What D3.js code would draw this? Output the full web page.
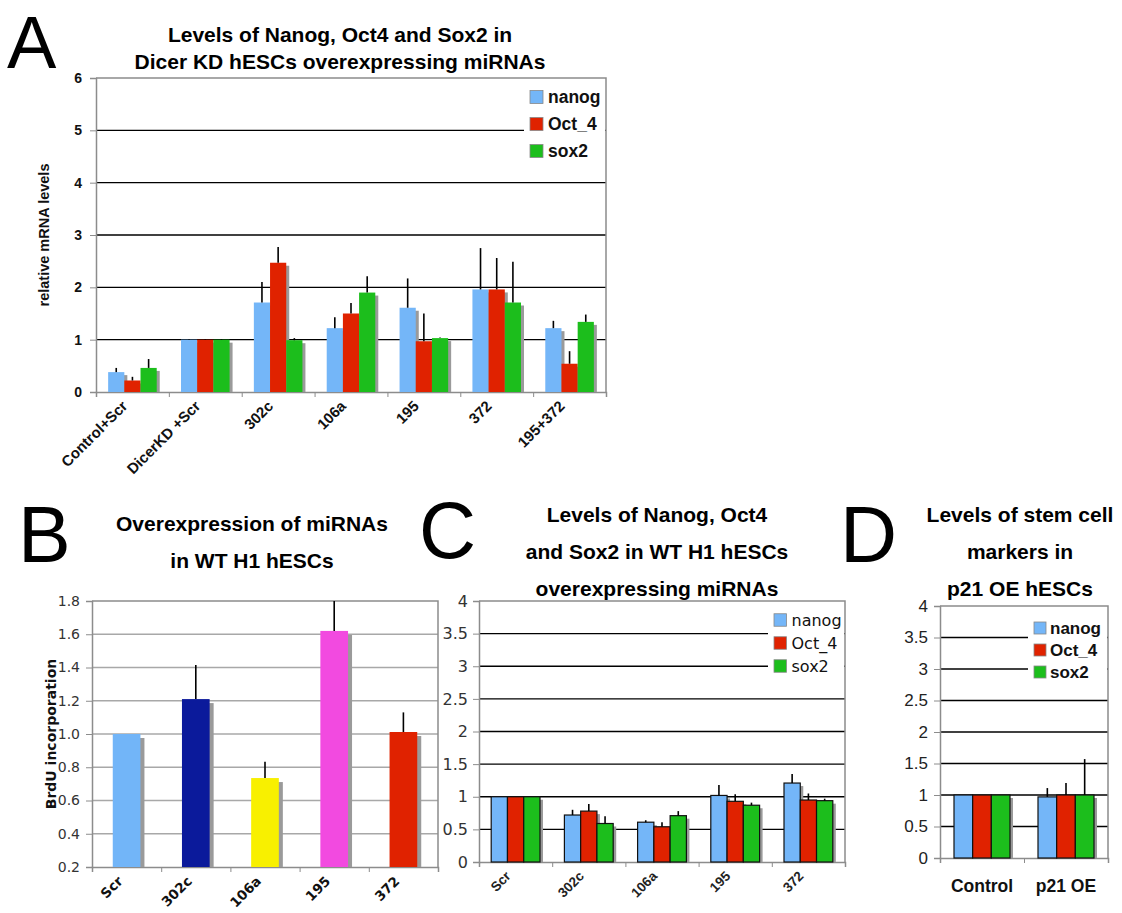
<!DOCTYPE html>
<html>
<head>
<meta charset="utf-8">
<script src="https://cdn.jsdelivr.net/npm/d3@7"></script>
<style>
  body { margin: 0; background: #fff; }
  svg { display: block; }
</style>
</head>
<body>
<svg id="fig" width="1122" height="913"></svg>
<script>
// ---- Panel A: Dicer KD hESCs overexpressing miRNAs ----
const aCategories = ["Control+Scr", "DicerKD +Scr", "302c", "106a", "195", "372", "195+372"];
const aNanog    = [0.38, 1.00, 1.71, 1.22, 1.61, 1.96, 1.22];
const aNanogErr = [0.08, 0.01, 0.39, 0.21, 0.56, 0.79, 0.14];
const aOct4     = [0.22, 1.00, 2.47, 1.50, 0.97, 1.96, 0.54];
const aOct4Err  = [0.07, 0.01, 0.30, 0.20, 0.53, 0.60, 0.24];
const aSox2     = [0.46, 1.00, 0.99, 1.90, 1.03, 1.71, 1.34];
const aSox2Err  = [0.17, 0.01, 0.04, 0.31, 0.01, 0.78, 0.14];
const aTicks = [0, 1, 2, 3, 4, 5, 6];

// ---- Panel B: BrdU incorporation ----
const bCategories = ["Scr", "302c", "106a", "195", "372"];
const bValues = [1.00, 1.21, 0.735, 1.62, 1.012];
const bErr    = [0.00, 0.205, 0.098, 0.18, 0.118];
const bColors = ["#72b5f8", "#0b1a9b", "#f8f000", "#f24ae0", "#e02200"];
const bTicks = [0.2, 0.4, 0.6, 0.8, 1.0, 1.2, 1.4, 1.6, 1.8];

// ---- Panel C: WT H1 hESCs overexpressing miRNAs ----
const cCategories = ["Scr", "302c", "106a", "195", "372"];
const cNanog    = [1.00, 0.72, 0.61, 1.02, 1.21];
const cNanogErr = [0.00, 0.08, 0.03, 0.16, 0.14];
const cOct4     = [1.00, 0.78, 0.54, 0.93, 0.95];
const cOct4Err  = [0.00, 0.11, 0.07, 0.11, 0.10];
const cSox2     = [1.00, 0.59, 0.71, 0.87, 0.94];
const cSox2Err  = [0.00, 0.11, 0.07, 0.04, 0.03];
const cTicks = [0, 0.5, 1, 1.5, 2, 2.5, 3, 3.5, 4];

// ---- Panel D: p21 OE hESCs ----
const dCategories = ["Control", "p21 OE"];
const dNanog    = [1.00, 0.97];
const dNanogErr = [0.00, 0.14];
const dOct4     = [1.00, 1.00];
const dOct4Err  = [0.00, 0.19];
const dSox2     = [1.00, 1.00];
const dSox2Err  = [0.00, 0.57];
const dTicks = [0, 0.5, 1, 1.5, 2, 2.5, 3, 3.5, 4];

const seriesNames = ["nanog", "Oct_4", "sox2"];
const seriesColors = ["#74b6f8", "#e02200", "#1cbe1c"];

const ARIAL = "'Liberation Sans', Arial, sans-serif";
const VERDANA = "'DejaVu Sans', Verdana, sans-serif";

const svg = d3.select("#fig");

function panelLetter(letter, x, y, size) {
  svg.append("text").attr("x", x).attr("y", y)
    .attr("font-family", ARIAL).attr("font-size", size).attr("fill", "#000")
    .text(letter);
}

function titleLines(lines, cx, y0, step, size) {
  lines.forEach((t, i) => {
    svg.append("text").attr("x", cx).attr("y", y0 + i * step)
      .attr("text-anchor", "middle").attr("font-family", ARIAL)
      .attr("font-weight", "bold").attr("font-size", size).attr("fill", "#000")
      .text(t);
  });
}

// Shared frame: gridlines, border, y axis, x boundary ticks
function frame(g, p, y, ticks, nCats, gridColor, gridWidth, tickFmt, tickFont) {
  const inner = ticks.slice(1, -1);
  g.append("g").selectAll("line").data(inner).join("line")
    .attr("x1", p.x0).attr("x2", p.x1)
    .attr("y1", d => y(d)).attr("y2", d => y(d))
    .attr("stroke", gridColor).attr("stroke-width", gridWidth);
  // top and right border
  g.append("path")
    .attr("d", `M${p.x0},${p.yTop}H${p.x1}V${p.yBot}`)
    .attr("fill", "none").attr("stroke", "#8c8c8c").attr("stroke-width", 1.5);
  // y axis
  const ya = g.append("g").attr("transform", `translate(${p.x0},0)`)
    .call(d3.axisLeft(y).tickValues(ticks).tickSize(6).tickPadding(p.tickPad).tickFormat(tickFmt));
  ya.select(".domain").attr("stroke", "#8c8c8c").attr("stroke-width", 1.5);
  ya.selectAll(".tick line").attr("stroke", "#8c8c8c");
  ya.selectAll(".tick text").attr("font-family", tickFont.family)
    .attr("font-weight", tickFont.weight).attr("font-size", tickFont.size)
    .attr("fill", tickFont.color);
  // x axis with ticks on category boundaries
  const xb = d3.scaleLinear().domain([0, nCats]).range([p.x0, p.x1]);
  const xa = g.append("g").attr("transform", `translate(0,${p.yBot})`)
    .call(d3.axisBottom(xb).tickValues(d3.range(nCats + 1)).tickSize(5).tickFormat(""));
  xa.select(".domain").attr("stroke", "#8c8c8c").attr("stroke-width", 1.5);
  xa.selectAll(".tick line").attr("stroke", "#8c8c8c");
}

function groupedPanel(p) {
  const g = svg.append("g");
  const y = d3.scaleLinear().domain([p.ticks[0], p.ticks[p.ticks.length - 1]]).range([p.yBot, p.yTop]);
  const x = d3.scaleBand().domain(p.categories).range([p.x0, p.x1]).padding(0);
  const bw = x.bandwidth();
  const xs = d3.scaleBand().domain(d3.range(3)).range([bw / 6, bw * 5 / 6]).padding(0);

  frame(g, p, y, p.ticks, p.categories.length, "#000", 1.4, p.tickFmt, p.tickFont);

  const bars = [];
  p.series.forEach((vals, si) => {
    vals.forEach((v, ci) => {
      bars.push({ cat: p.categories[ci], si, v, e: p.errors[si][ci] });
    });
  });
  const bx = d => x(d.cat) + xs(d.si);
  // drop shadows
  g.append("g").selectAll("rect").data(bars).join("rect")
    .attr("x", d => bx(d) + 3).attr("y", d => y(d.v) + 3)
    .attr("width", xs.bandwidth())
    .attr("height", d => Math.max(0, y(0) - y(d.v) - 3))
    .attr("fill", "#9a9a9a");
  // bars
  g.append("g").selectAll("rect").data(bars).join("rect")
    .attr("x", d => bx(d)).attr("y", d => y(d.v))
    .attr("width", xs.bandwidth()).attr("height", d => y(0) - y(d.v))
    .attr("fill", d => seriesColors[d.si])
    .attr("stroke", p.barStroke ? "#111" : "none").attr("stroke-width", p.barStroke ? 1.2 : 0);
  // upper error bars
  g.append("g").selectAll("line").data(bars.filter(d => d.e > 0)).join("line")
    .attr("x1", d => bx(d) + xs.bandwidth() / 2).attr("x2", d => bx(d) + xs.bandwidth() / 2)
    .attr("y1", d => y(d.v)).attr("y2", d => y(Math.min(d.v + d.e, y.domain()[1])))
    .attr("stroke", "#000").attr("stroke-width", 1.6);

  // legend
  const L = p.legend;
  g.append("rect").attr("x", L.x - 6).attr("y", L.y - L.step / 2 - 4)
    .attr("width", p.x1 - L.x + 5).attr("height", L.step * 3 + 6).attr("fill", "#fff");
  seriesNames.forEach((n, i) => {
    const cy = L.y + i * L.step;
    g.append("rect").attr("x", L.x).attr("y", cy - L.sw / 2)
      .attr("width", L.sw).attr("height", L.sw)
      .attr("fill", seriesColors[i]).attr("stroke", "#888").attr("stroke-width", 0.8);
    g.append("text").attr("x", L.x + L.sw + L.gap).attr("y", cy).attr("dy", "0.36em")
      .attr("font-family", L.family).attr("font-weight", L.weight)
      .attr("font-size", L.size).attr("fill", "#111").text(n);
  });

  // category labels
  const lab = p.xLabel;
  g.append("g").selectAll("text").data(p.categories).join("text")
    .attr("transform", d => lab.rotate
      ? `translate(${x(d) + bw / 2 + lab.dx},${p.yBot + lab.dy}) rotate(-45)`
      : `translate(${x(d) + bw / 2},${p.yBot + lab.dy})`)
    .attr("text-anchor", lab.rotate ? "end" : "middle")
    .attr("font-family", lab.family).attr("font-weight", lab.weight)
    .attr("font-size", lab.size).attr("fill", lab.color || "#111").text(d => d);
  return { g, y };
}

// ---------- A ----------
panelLetter("A", 7, 68, 74);
titleLines(["Levels of Nanog, Oct4 and Sox2 in", "Dicer KD hESCs overexpressing miRNAs"], 340, 42, 27, 21);
groupedPanel({
  x0: 96, x1: 606, yTop: 78, yBot: 392, tickPad: 8,
  categories: aCategories, series: [aNanog, aOct4, aSox2], errors: [aNanogErr, aOct4Err, aSox2Err],
  ticks: aTicks, tickFmt: d3.format("d"),
  tickFont: { family: ARIAL, weight: "bold", size: 14, color: "#111" },
  barStroke: false,
  legend: { x: 530, y: 97, step: 27, sw: 13, gap: 5, family: ARIAL, weight: "bold", size: 17.5 },
  xLabel: { rotate: true, dx: -4, dy: 15, family: ARIAL, weight: "bold", size: 15 }
});
svg.append("text").attr("transform", "translate(49,235) rotate(-90)")
  .attr("text-anchor", "middle").attr("font-family", ARIAL).attr("font-weight", "bold")
  .attr("font-size", 14.5).attr("fill", "#111").text("relative mRNA levels");

// ---------- B ----------
panelLetter("B", 18, 562, 79);
titleLines(["Overexpression of miRNAs", "in WT H1 hESCs"], 252, 531, 37, 21);
(function () {
  const p = { x0: 92, x1: 438, yTop: 601, yBot: 867, tickPad: 6 };
  const g = svg.append("g");
  const y = d3.scaleLinear().domain([0.2, 1.8]).range([p.yBot, p.yTop]);
  const x = d3.scaleBand().domain(bCategories).range([p.x0, p.x1]).padding(0);
  const bw = x.bandwidth();
  const barW = bw / 2.5;
  frame(g, p, y, bTicks, bCategories.length, "#a8a8a8", 1.3, d3.format(".1f"),
    { family: VERDANA, weight: "normal", size: 14, color: "#333" });
  const rows = bCategories.map((c, i) => ({ c, v: bValues[i], e: bErr[i], col: bColors[i] }));
  const bx = d => x(d.c) + (bw - barW) / 2;
  g.append("g").selectAll("rect").data(rows).join("rect")
    .attr("x", d => bx(d) + 4).attr("y", d => y(d.v) + 4)
    .attr("width", barW).attr("height", d => y(0.2) - y(d.v) - 4).attr("fill", "#9a9a9a");
  g.append("g").selectAll("rect").data(rows).join("rect")
    .attr("x", bx).attr("y", d => y(d.v))
    .attr("width", barW).attr("height", d => y(0.2) - y(d.v)).attr("fill", d => d.col);
  g.append("g").selectAll("line").data(rows.filter(d => d.e > 0)).join("line")
    .attr("x1", d => bx(d) + barW / 2).attr("x2", d => bx(d) + barW / 2)
    .attr("y1", d => y(d.v)).attr("y2", d => y(Math.min(d.v + d.e, 1.8)))
    .attr("stroke", "#000").attr("stroke-width", 1.6);
  g.append("g").selectAll("text").data(bCategories).join("text")
    .attr("transform", d => `translate(${x(d) + bw / 2 - 3},${p.yBot + 15}) rotate(-45)`)
    .attr("text-anchor", "end").attr("font-family", VERDANA).attr("font-weight", "bold")
    .attr("font-size", 13.5).attr("fill", "#111").text(d => d);
  svg.append("text").attr("transform", "translate(56,734) rotate(-90)")
    .attr("text-anchor", "middle").attr("font-family", VERDANA).attr("font-weight", "bold")
    .attr("font-size", 14).attr("fill", "#111").text("BrdU incorporation");
})();

// ---------- C ----------
panelLetter("C", 419, 558, 79);
titleLines(["Levels of Nanog, Oct4", "and Sox2 in WT H1 hESCs", "overexpressing miRNAs"], 657, 522, 37, 21);
groupedPanel({
  x0: 479, x1: 845, yTop: 601, yBot: 862, tickPad: 5,
  categories: cCategories, series: [cNanog, cOct4, cSox2], errors: [cNanogErr, cOct4Err, cSox2Err],
  ticks: cTicks, tickFmt: d3.format("~g"),
  tickFont: { family: VERDANA, weight: "normal", size: 16, color: "#333" },
  barStroke: true,
  legend: { x: 774, y: 620, step: 23, sw: 12.5, gap: 5, family: VERDANA, weight: "normal", size: 16 },
  xLabel: { rotate: true, dx: -4, dy: 15, family: ARIAL, weight: "bold", size: 13.5, color: "#222" }
});

// ---------- D ----------
panelLetter("D", 840, 562, 79);
titleLines(["Levels of stem cell", "markers in", "p21 OE hESCs"], 1020, 522, 37, 21);
groupedPanel({
  x0: 940, x1: 1108, yTop: 606, yBot: 858, tickPad: 6,
  categories: dCategories, series: [dNanog, dOct4, dSox2], errors: [dNanogErr, dOct4Err, dSox2Err],
  ticks: dTicks, tickFmt: d3.format("~g"),
  tickFont: { family: ARIAL, weight: "normal", size: 17, color: "#222" },
  barStroke: true,
  legend: { x: 1034, y: 628, step: 22, sw: 12, gap: 4, family: ARIAL, weight: "bold", size: 17 },
  xLabel: { rotate: false, dy: 34, family: ARIAL, weight: "bold", size: 17.5 }
});
</script>
</body>
</html>
